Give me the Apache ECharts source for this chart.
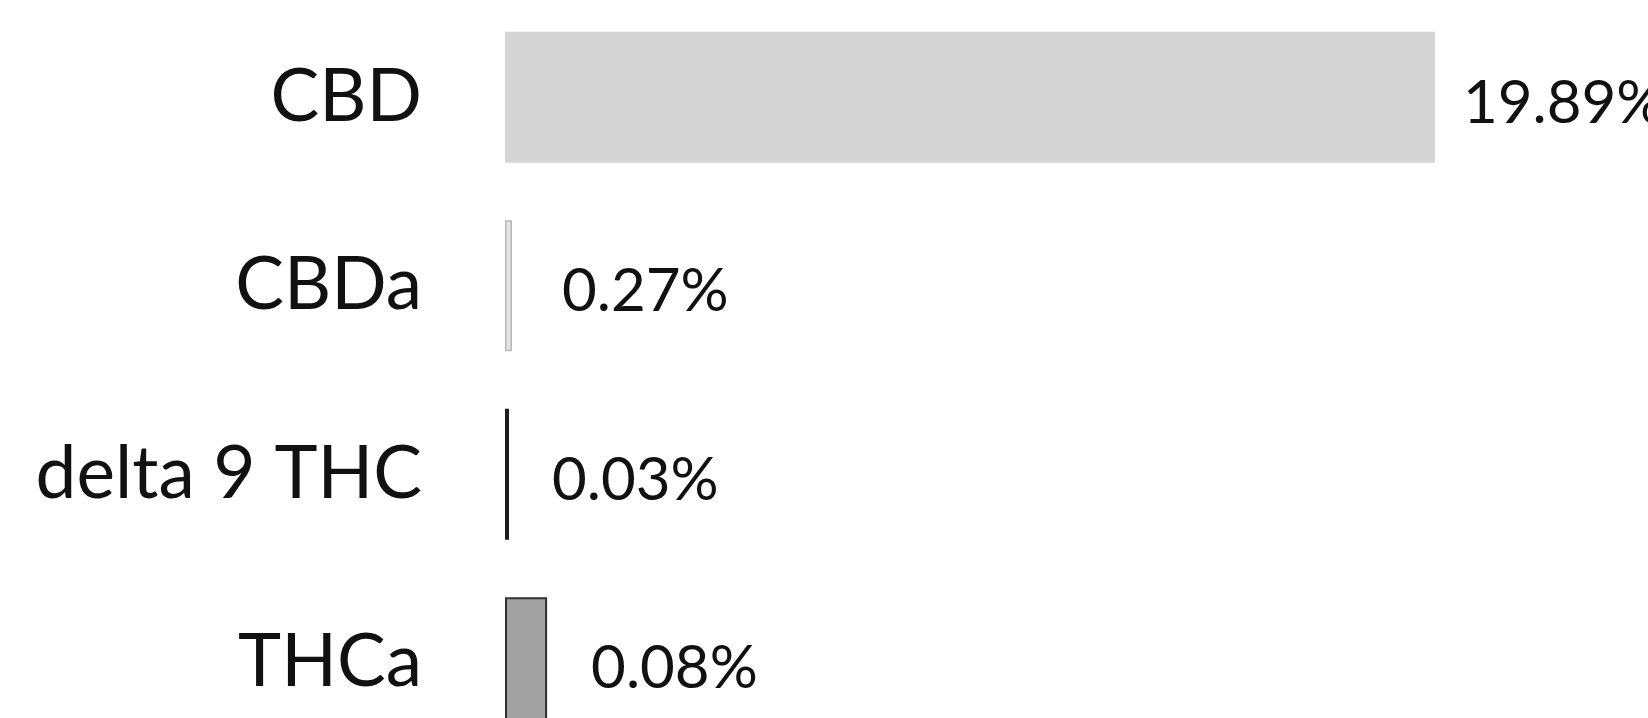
<!DOCTYPE html>
<html>
<head>
<meta charset="utf-8">
<script src="https://cdn.jsdelivr.net/npm/echarts@6/dist/echarts.min.js"></script>
<style>
html,body{margin:0;padding:0;background:#fff;}
#chart{width:1648px;height:718px;}
</style>
</head>
<body>
<div id="chart"></div>
<script>
// Categories (top to bottom)
const categories = ['CBD', 'CBDa', 'delta 9 THC', 'THCa'];
// Bar lengths as drawn in the picture (in % units of the axis)
const barValues = [19.89, 0.15, 0.085, 0.9];
// Value labels as printed next to each bar
const valueLabels = ['19.89%', '0.27%', '0.03%', '0.08%'];

const fills = ['#d5d5d5', '#e4e4e4', '#1e1e1e', '#a2a2a2'];
const borders = ['#d5d5d5', '#b8b8b8', '#1e1e1e', '#303030'];
const borderWidths = [0, 1.5, 0, 2];
const labelDist = [28, 50, 43, 44];

const chart = echarts.init(document.getElementById('chart'));
chart.setOption({
  animation: false,
  backgroundColor: '#ffffff',
  grid: { left: 505, width: 930, top: 3, height: 754, outerBoundsMode: 'none', containLabel: false },
  xAxis: {
    type: 'value', min: 0, max: 19.89,
    show: false
  },
  yAxis: {
    type: 'category', data: categories, inverse: true,
    axisLine: { show: false }, axisTick: { show: false },
    axisLabel: {
      margin: 83, color: '#111', fontFamily: 'Lato', fontSize: 73,
      padding: [2, 0, 0, 0]
    }
  },
  series: [{
    type: 'bar',
    barWidth: 131,
    data: barValues.map((v, i) => ({
      value: v,
      itemStyle: { color: fills[i], borderColor: borders[i], borderWidth: borderWidths[i] },
      label: { distance: labelDist[i] }
    })),
    label: {
      show: true, position: 'right',
      color: '#111', fontFamily: 'Lato', fontSize: 60,
      offset: [0, 6],
      formatter: p => valueLabels[p.dataIndex]
    }
  }]
});
</script>
</body>
</html>
